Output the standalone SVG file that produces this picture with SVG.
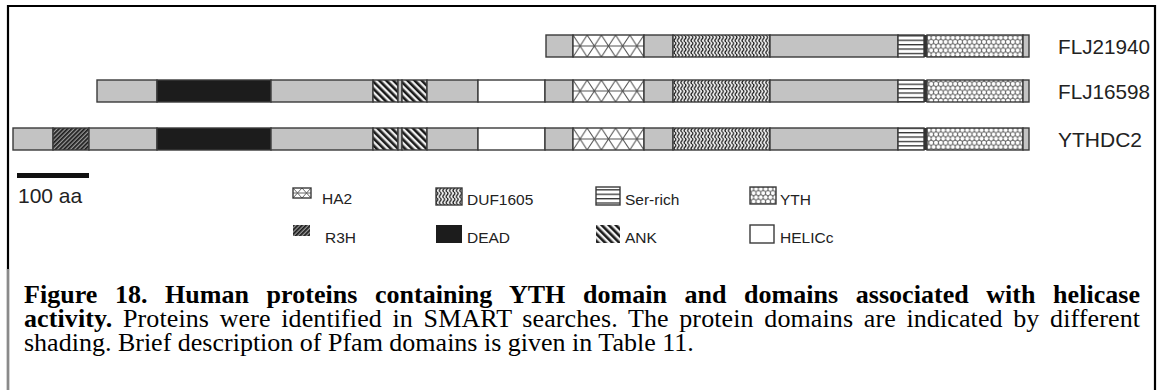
<svg xmlns="http://www.w3.org/2000/svg" width="1158" height="390" viewBox="0 0 1158 390">
<style>
.seg{stroke:#3a3a3a;stroke-width:1.4}
.gray{fill:#c3c3c3}
.dead{fill:#1c1c1c}
.helic{fill:#fff}
.ha2{fill:url(#pHA2)}
.ha2s{fill:url(#pHA2s)}
.duf{fill:url(#pDUF)}
.ser{fill:url(#pSER)}
.yth{fill:url(#pYTH)}
.r3h{fill:url(#pR3H)}
.ank{fill:url(#pANK)}
.sep{fill:#333}
.lbl{font-family:"Liberation Sans",Arial,sans-serif;font-size:21px;fill:#222}
.leg{font-family:"Liberation Sans",Arial,sans-serif;font-size:15.5px;fill:#222}
.cap{font-family:"Liberation Serif","Times New Roman",serif;font-size:26px;fill:#000}
.b{font-weight:bold}
.frame{stroke:#000;stroke-width:2.2;fill:none}
</style>
<defs>
<pattern id="pHA2" patternUnits="objectBoundingBox" width="0.2" height="1">
<rect width="14.2" height="22" fill="#fff"/>
<path d="M0,0L14.2,22M14.2,0L0,22M0,11H14.2" stroke="#555" stroke-width="1" fill="none"/>
</pattern>
<pattern id="pHA2s" patternUnits="objectBoundingBox" width="0.5" height="1">
<rect width="9" height="10" fill="#fff"/>
<path d="M0,0L9,10M9,0L0,10M0,5H9" stroke="#555" stroke-width="0.9" fill="none"/>
</pattern>
<pattern id="pDUF" patternUnits="userSpaceOnUse" width="3.4" height="6">
<rect width="3.4" height="6" fill="#f0f0f0"/>
<path d="M1.7,0Q3.4,1.5 1.7,3Q0,4.5 1.7,6" stroke="#1e1e1e" stroke-width="1.3" fill="none"/>
</pattern>
<pattern id="pSER" patternUnits="userSpaceOnUse" width="10" height="4.4">
<rect width="10" height="4.4" fill="#fff"/>
<rect y="0" width="10" height="1.3" fill="#333"/>
</pattern>
<pattern id="pYTH" patternUnits="userSpaceOnUse" width="4.8" height="8.4">
<rect width="4.8" height="8.4" fill="#606060"/>
<circle cx="0" cy="0" r="2" fill="#fff"/>
<circle cx="4.8" cy="0" r="2" fill="#fff"/>
<circle cx="0" cy="8.4" r="2" fill="#fff"/>
<circle cx="4.8" cy="8.4" r="2" fill="#fff"/>
<circle cx="2.4" cy="4.2" r="2" fill="#fff"/>
</pattern>
<pattern id="pR3H" patternUnits="userSpaceOnUse" width="3" height="3" patternTransform="rotate(45)">
<rect width="3" height="3" fill="#9a9a9a"/>
<rect width="1.7" height="3" fill="#1a1a1a"/>
</pattern>
<pattern id="pANK" patternUnits="userSpaceOnUse" width="5" height="5" patternTransform="rotate(-45)">
<rect width="5" height="5" fill="#eee"/>
<rect width="2.6" height="5" fill="#1a1a1a"/>
</pattern>
</defs>

<g id="frame">
<path class="frame" d="M8,390V6H1155V390"/>
<line x1="8" y1="269" x2="8" y2="390" stroke="#8a8a8a" stroke-width="2.4"/>
</g>

<g id="connectors"></g>

<g id="FLJ21940">
<rect class="seg gray" x="546" y="35" width="27" height="22"/>
<rect class="seg ha2" x="573" y="35" width="71" height="22"/>
<rect class="seg gray" x="644" y="35" width="29" height="22"/>
<rect class="seg duf" x="673" y="35" width="97" height="22"/>
<rect class="seg gray" x="770" y="35" width="128" height="22"/>
<rect class="seg ser" x="898" y="35" width="26" height="22"/>
<rect class="sep" x="924" y="35" width="3" height="22"/>
<rect class="seg yth" x="927" y="35" width="96" height="22"/>
<rect class="seg gray" x="1023" y="35" width="6" height="22"/>
<text class="lbl" x="1058" y="54" textLength="92" lengthAdjust="spacingAndGlyphs">FLJ21940</text>
</g>

<g id="FLJ16598">
<rect class="seg gray" x="97" y="80" width="60" height="22"/>
<rect class="seg dead" x="157" y="80" width="114" height="22"/>
<rect class="seg gray" x="271" y="80" width="102" height="22"/>
<rect class="seg ank" x="373" y="80" width="25" height="22"/>
<rect class="seg gray" x="398" y="80" width="4" height="22"/>
<rect class="seg ank" x="402" y="80" width="25" height="22"/>
<rect class="seg gray" x="427" y="80" width="51" height="22"/>
<rect class="seg helic" x="478" y="80" width="67" height="22"/>
<rect class="seg gray" x="545" y="80" width="28" height="22"/>
<rect class="seg ha2" x="573" y="80" width="71" height="22"/>
<rect class="seg gray" x="644" y="80" width="29" height="22"/>
<rect class="seg duf" x="673" y="80" width="97" height="22"/>
<rect class="seg gray" x="770" y="80" width="128" height="22"/>
<rect class="seg ser" x="898" y="80" width="26" height="22"/>
<rect class="sep" x="924" y="80" width="3" height="22"/>
<rect class="seg yth" x="927" y="80" width="96" height="22"/>
<rect class="seg gray" x="1023" y="80" width="6" height="22"/>
<text class="lbl" x="1058" y="99" textLength="92" lengthAdjust="spacingAndGlyphs">FLJ16598</text>
</g>

<g id="YTHDC2">
<rect class="seg gray" x="13" y="128" width="40" height="22"/>
<rect class="seg r3h" x="53" y="128" width="36" height="22"/>
<rect class="seg gray" x="89" y="128" width="68" height="22"/>
<rect class="seg dead" x="157" y="128" width="114" height="22"/>
<rect class="seg gray" x="271" y="128" width="102" height="22"/>
<rect class="seg ank" x="373" y="128" width="25" height="22"/>
<rect class="seg gray" x="398" y="128" width="4" height="22"/>
<rect class="seg ank" x="402" y="128" width="25" height="22"/>
<rect class="seg gray" x="427" y="128" width="51" height="22"/>
<rect class="seg helic" x="478" y="128" width="67" height="22"/>
<rect class="seg gray" x="545" y="128" width="28" height="22"/>
<rect class="seg ha2" x="573" y="128" width="71" height="22"/>
<rect class="seg gray" x="644" y="128" width="29" height="22"/>
<rect class="seg duf" x="673" y="128" width="97" height="22"/>
<rect class="seg gray" x="770" y="128" width="128" height="22"/>
<rect class="seg ser" x="898" y="128" width="26" height="22"/>
<rect class="sep" x="924" y="128" width="3" height="22"/>
<rect class="seg yth" x="927" y="128" width="96" height="22"/>
<rect class="seg gray" x="1023" y="128" width="6" height="22"/>
<text class="lbl" x="1058" y="147" textLength="84" lengthAdjust="spacingAndGlyphs">YTHDC2</text>
</g>

<g id="scalebar">
<rect x="17" y="173" width="72" height="5" fill="#111"/>
<text class="lbl" x="18" y="203" font-size="20">100 aa</text>
</g>

<g id="legend">
<g id="leg-HA2"><rect class="seg ha2s" x="293" y="188" width="18" height="10" stroke-width="1"/><text class="leg" x="322" y="204">HA2</text></g>
<g id="leg-R3H"><rect class="r3h" x="293" y="225" width="17" height="11"/><text class="leg" x="325" y="243">R3H</text></g>
<g id="leg-DUF1605"><rect class="seg duf" x="436" y="188" width="26" height="17" stroke-width="1"/><text class="leg" x="467" y="205">DUF1605</text></g>
<g id="leg-DEAD"><rect class="dead" x="436" y="225" width="26" height="18"/><text class="leg" x="467" y="243">DEAD</text></g>
<g id="leg-Ser"><rect class="seg ser" x="596" y="187" width="24" height="18" stroke-width="1"/><text class="leg" x="625" y="205">Ser-rich</text></g>
<g id="leg-ANK"><rect class="ank" x="596" y="225" width="24" height="18"/><text class="leg" x="625" y="243">ANK</text></g>
<g id="leg-YTH"><rect class="seg yth" x="750" y="187" width="26" height="17" stroke-width="1"/><text class="leg" x="780" y="205">YTH</text></g>
<g id="leg-HELICc"><rect class="seg helic" x="750" y="225" width="24" height="18" stroke-width="1"/><text class="leg" x="780" y="243">HELICc</text></g>
</g>

<g id="caption">
<text class="cap b" x="24" y="303" textLength="1116" lengthAdjust="spacing" word-spacing="11">Figure 18. Human proteins containing YTH domain and domains associated with helicase</text>
<text class="cap" x="24" y="327" textLength="1116" lengthAdjust="spacing" word-spacing="4"><tspan class="b">activity.</tspan> Proteins were identified in SMART searches. The protein domains are indicated by different</text>
<text class="cap" x="24" y="351">shading. Brief description of Pfam domains is given in Table 11.</text>
</g>
</svg>
